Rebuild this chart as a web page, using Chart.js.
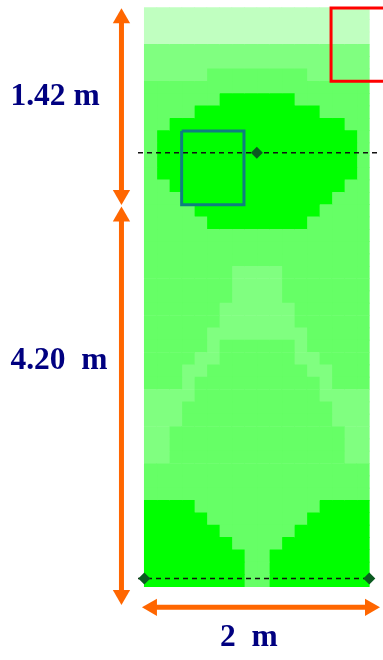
<!DOCTYPE html>
<html>
<head>
<meta charset="utf-8">
<title>Field map</title>
<script src="https://cdn.jsdelivr.net/npm/chart.js@4/dist/chart.umd.min.js"></script>
<style>
    html, body { margin: 0; padding: 0; background: #fff; }
    canvas { display: block; }
</style>
</head>
<body>
<canvas id="chart" width="383" height="660"></canvas>
<script>
// One string per row of the map (top to bottom), one digit per column: band 0-3
const cellRows = [
    '333333333333333333', '333333333333333333', '333333333333333333',
    '222222222222222222', '222222222222222222',
    '222221111111122222',
    '111111111111111111',
    '111111000000111111',
    '111100000000001111',
    '110000000000000011',
    '100000000000000001', '100000000000000001', '100000000000000001', '100000000000000001',
    '110000000000000011',
    '111000000000000111',
    '111100000000001111',
    '111110000000011111',
    '111111111111111111', '111111111111111111', '111111111111111111',
    '111111122221111111', '111111122221111111', '111111122221111111',
    '111111222222111111', '111111222222111111',
    '111112222222211111',
    '111112111111211111',
    '111122111111221111',
    '111221111111122111',
    '111211111111112111',
    '222211111111112222',
    '222111111111111222', '222111111111111222',
    '221111111111111122', '221111111111111122', '221111111111111122',
    '111111111111111111', '111111111111111111', '111111111111111111',
    '000011111111110000',
    '000001111111100000',
    '000000111111000000',
    '000000011110000000',
    '000000001100000000', '000000001100000000', '000000001100000000'
];
const bandColors = ['#00FF00', '#66FF66', '#80FF80', '#C0FFC0'];
// Empty rows under the map, they leave room for the width arrow
const spareRows = ['', '', '', '', ''];

// Overlays, in metres from the top left corner of the map
const dashedTopX = [-0.056, 2.08];
const dashedTopY = [1.41, 1.41];
const dashedBottomX = [-0.056, 2.0];
const dashedBottomY = [5.54, 5.54];
const markerX = [1.0, 0, 2.0];
const markerY = [1.41, 5.54, 5.54];
const tealBoxX = [0.332, 0.886, 0.886, 0.332, 0.332];
const tealBoxY = [1.2, 1.2, 1.915, 1.915, 1.2];
const redBoxX = [2.13, 1.66, 1.66, 2.13];
const redBoxY = [0.007, 0.007, 0.718, 0.718];
const arrowTopX = [-0.203, -0.203];
const arrowTopY = [0.107, 1.82];
const arrowLowerX = [-0.203, -0.203];
const arrowLowerY = [2.03, 5.70];
const arrowWidthX = [0.068, 2.006];
const arrowWidthY = [5.82, 5.82];

const dimensionLabels = ['1.42 m', '4.20  m', '2  m'];
const dimensionX = [-1.19, -1.19, 0.93];
const dimensionY = [0.87, 3.43, 6.117];
const dimensionAlign = ['left', 'left', 'center'];

function toPoints(xs, ys) {
    return xs.map(function(x, i) {
        return { x: x, y: ys[i] };
    });
}

const columnCount = cellRows[0].length;
const rowLabels = cellRows.map(function(row, i) {
    return String(i);
}).concat(spareRows);

// Each column is one stacked series, so the bars build up the grid
const datasets = [];
for (let col = 0; col < columnCount; col++) {
    datasets.push({
        type: 'bar',
        data: cellRows.map(function() { return 1; }),
        backgroundColor: cellRows.map(function(row) { return bandColors[Number(row[col])]; }),
        // not grouped: the metre axes would otherwise halve the bar thickness
        grouped: false,
        barPercentage: 1,
        categoryPercentage: 1,
        borderWidth: 0,
        order: 3
    });
}

function overlay(xs, ys, color, width, extra) {
    return Object.assign({
        type: 'scatter',
        data: toPoints(xs, ys),
        xAxisID: 'xMetres',
        yAxisID: 'yMetres',
        indexAxis: 'x',
        showLine: true,
        borderColor: color,
        backgroundColor: color,
        borderWidth: width,
        pointRadius: 0,
        clip: false,
        order: 1
    }, extra || {});
}

function arrow(xs, ys, rotations) {
    return overlay(xs, ys, '#FF6600', 5, {
        pointStyle: 'triangle',
        pointRadius: 10,
        pointBorderWidth: 0,
        pointRotation: rotations,
        order: 1
    });
}

datasets.push(overlay(dashedTopX, dashedTopY, '#111111', 1.5, { borderDash: [5, 4], order: 2 }));
datasets.push(overlay(dashedBottomX, dashedBottomY, '#111111', 1.5, { borderDash: [5, 4], order: 2 }));
datasets.push(overlay(tealBoxX, tealBoxY, '#0F7F80', 3, { borderJoinStyle: 'miter' }));
datasets.push(overlay(redBoxX, redBoxY, '#FF0000', 3, { borderJoinStyle: 'miter' }));
datasets.push(overlay(markerX, markerY, '#0B5A20', 0, {
    showLine: false,
    pointStyle: 'rectRot',
    pointRadius: 6,
    pointBorderWidth: 0,
    order: 0
}));
datasets.push(arrow(arrowTopX, arrowTopY, [0, 180]));
datasets.push(arrow(arrowLowerX, arrowLowerY, [0, 180]));
datasets.push(arrow(arrowWidthX, arrowWidthY, [270, 90]));

// Dimension captions sit outside the map, placed through the metre scales
const dimensionPlugin = {
    id: 'dimensionLabels',
    afterDraw: function(chart) {
        const ctx = chart.ctx;
        ctx.save();
        ctx.font = 'bold 31.5px "Liberation Serif"';
        ctx.fillStyle = '#000080';
        ctx.textBaseline = 'middle';
        dimensionLabels.forEach(function(label, i) {
            ctx.textAlign = dimensionAlign[i];
            ctx.fillText(
                label,
                chart.scales.xMetres.getPixelForValue(dimensionX[i]),
                chart.scales.yMetres.getPixelForValue(dimensionY[i])
            );
        });
        ctx.restore();
    }
};

new Chart(document.getElementById('chart').getContext('2d'), {
    type: 'bar',
    data: { labels: rowLabels, datasets: datasets },
    plugins: [dimensionPlugin],
    options: {
        indexAxis: 'y',
        responsive: false,
        animation: false,
        // The plot fills the page so the arrows left of the map are not dropped
        layout: { autoPadding: false, padding: { left: 0, right: 0, top: 7.3, bottom: 11.6 } },
        plugins: { legend: { display: false }, tooltip: { enabled: false } },
        scales: {
            x: { type: 'linear', display: false, stacked: true, min: -11.544, max: 19.096 },
            y: { type: 'category', display: false, stacked: true },
            xMetres: { type: 'linear', axis: 'x', display: false, min: -1.2827, max: 2.1218 },
            yMetres: { type: 'linear', axis: 'y', display: false, offset: false, min: 0, max: 6.218, reverse: true }
        }
    }
});
</script>
</body>
</html>
